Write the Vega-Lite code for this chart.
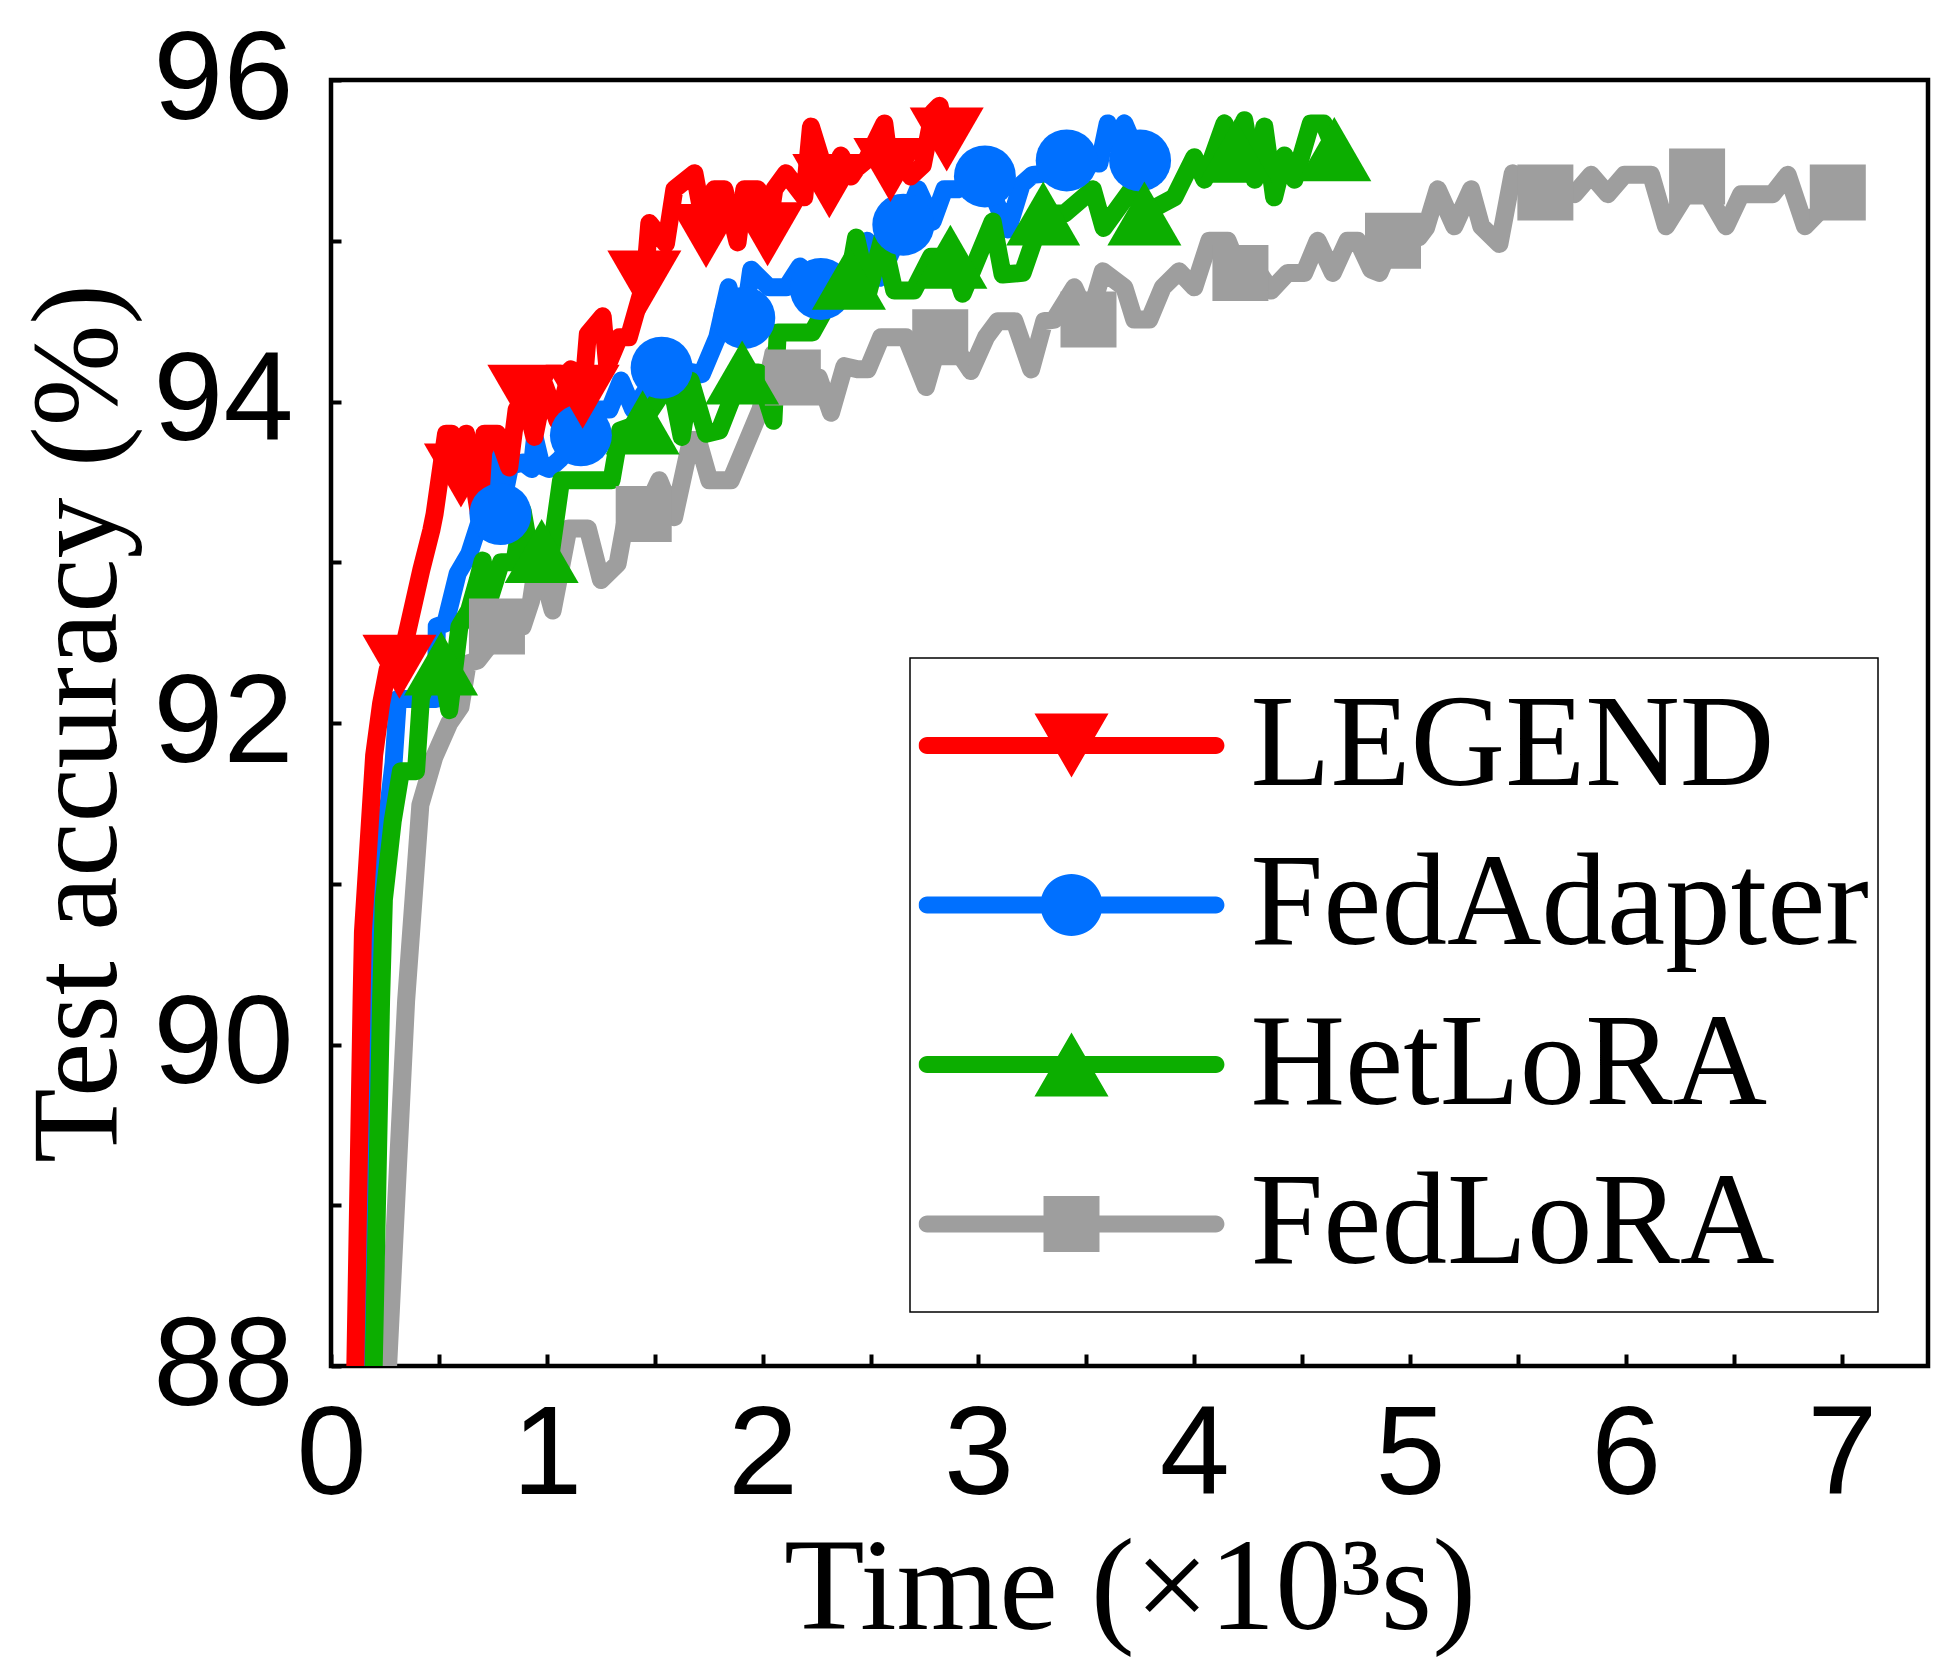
{
  "$schema": "https://vega.github.io/schema/vega-lite/v6.json",
  "width": 1597,
  "height": 1286,
  "autosize": {"type": "none"},
  "padding": {"left": 331, "top": 80, "right": 9, "bottom": 296},
  "background": "white",
  "datasets": {
    "lines": [
      {"series":"FedLoRA","time":0.25,"acc":87.6},{"series":"FedLoRA","time":0.348,"acc":90.27},{"series":"FedLoRA","time":0.414,"acc":91.49},{"series":"FedLoRA","time":0.479,"acc":91.79},{"series":"FedLoRA","time":0.548,"acc":92.0},{"series":"FedLoRA","time":0.6,"acc":92.1},{"series":"FedLoRA","time":0.633,"acc":92.37},{"series":"FedLoRA","time":0.68,"acc":92.39},{"series":"FedLoRA","time":0.726,"acc":92.47},{"series":"FedLoRA","time":0.769,"acc":92.6},{"series":"FedLoRA","time":0.888,"acc":92.6},{"series":"FedLoRA","time":0.927,"acc":92.76},{"series":"FedLoRA","time":0.958,"acc":93.04},{"series":"FedLoRA","time":1.027,"acc":92.7},{"series":"FedLoRA","time":1.066,"acc":92.97},{"series":"FedLoRA","time":1.1,"acc":93.21},{"series":"FedLoRA","time":1.19,"acc":93.21},{"series":"FedLoRA","time":1.251,"acc":92.89},{"series":"FedLoRA","time":1.328,"acc":92.99},{"series":"FedLoRA","time":1.37,"acc":93.3},{"series":"FedLoRA","time":1.449,"acc":93.3},{"series":"FedLoRA","time":1.521,"acc":93.51},{"series":"FedLoRA","time":1.59,"acc":93.28},{"series":"FedLoRA","time":1.668,"acc":93.76},{"series":"FedLoRA","time":1.7,"acc":93.76},{"series":"FedLoRA","time":1.753,"acc":93.51},{"series":"FedLoRA","time":1.853,"acc":93.51},{"series":"FedLoRA","time":1.99,"acc":93.95},{"series":"FedLoRA","time":2.05,"acc":94.3},{"series":"FedLoRA","time":2.14,"acc":94.15},{"series":"FedLoRA","time":2.26,"acc":94.15},{"series":"FedLoRA","time":2.317,"acc":93.93},{"series":"FedLoRA","time":2.379,"acc":94.22},{"series":"FedLoRA","time":2.44,"acc":94.2},{"series":"FedLoRA","time":2.487,"acc":94.2},{"series":"FedLoRA","time":2.549,"acc":94.4},{"series":"FedLoRA","time":2.664,"acc":94.4},{"series":"FedLoRA","time":2.757,"acc":94.09},{"series":"FedLoRA","time":2.823,"acc":94.4},{"series":"FedLoRA","time":2.92,"acc":94.28},{"series":"FedLoRA","time":2.965,"acc":94.19},{"series":"FedLoRA","time":3.035,"acc":94.4},{"series":"FedLoRA","time":3.09,"acc":94.5},{"series":"FedLoRA","time":3.167,"acc":94.5},{"series":"FedLoRA","time":3.244,"acc":94.2},{"series":"FedLoRA","time":3.305,"acc":94.5},{"series":"FedLoRA","time":3.352,"acc":94.51},{"series":"FedLoRA","time":3.444,"acc":94.71},{"series":"FedLoRA","time":3.51,"acc":94.51},{"series":"FedLoRA","time":3.576,"acc":94.81},{"series":"FedLoRA","time":3.676,"acc":94.71},{"series":"FedLoRA","time":3.722,"acc":94.51},{"series":"FedLoRA","time":3.792,"acc":94.51},{"series":"FedLoRA","time":3.854,"acc":94.71},{"series":"FedLoRA","time":3.93,"acc":94.81},{"series":"FedLoRA","time":4.0,"acc":94.71},{"series":"FedLoRA","time":4.07,"acc":95.0},{"series":"FedLoRA","time":4.155,"acc":95.0},{"series":"FedLoRA","time":4.214,"acc":94.8},{"series":"FedLoRA","time":4.3,"acc":94.8},{"series":"FedLoRA","time":4.356,"acc":94.69},{"series":"FedLoRA","time":4.433,"acc":94.8},{"series":"FedLoRA","time":4.51,"acc":94.8},{"series":"FedLoRA","time":4.572,"acc":95.0},{"series":"FedLoRA","time":4.642,"acc":94.8},{"series":"FedLoRA","time":4.71,"acc":95.0},{"series":"FedLoRA","time":4.757,"acc":95.0},{"series":"FedLoRA","time":4.82,"acc":94.82},{"series":"FedLoRA","time":4.858,"acc":94.8},{"series":"FedLoRA","time":4.921,"acc":95.0},{"series":"FedLoRA","time":5.04,"acc":95.02},{"series":"FedLoRA","time":5.074,"acc":95.08},{"series":"FedLoRA","time":5.128,"acc":95.32},{"series":"FedLoRA","time":5.205,"acc":95.09},{"series":"FedLoRA","time":5.283,"acc":95.32},{"series":"FedLoRA","time":5.33,"acc":95.09},{"series":"FedLoRA","time":5.414,"acc":94.98},{"series":"FedLoRA","time":5.476,"acc":95.42},{"series":"FedLoRA","time":5.627,"acc":95.3},{"series":"FedLoRA","time":5.762,"acc":95.29},{"series":"FedLoRA","time":5.839,"acc":95.41},{"series":"FedLoRA","time":5.916,"acc":95.29},{"series":"FedLoRA","time":5.993,"acc":95.41},{"series":"FedLoRA","time":6.117,"acc":95.41},{"series":"FedLoRA","time":6.186,"acc":95.09},{"series":"FedLoRA","time":6.33,"acc":95.4},{"series":"FedLoRA","time":6.464,"acc":95.09},{"series":"FedLoRA","time":6.534,"acc":95.29},{"series":"FedLoRA","time":6.68,"acc":95.29},{"series":"FedLoRA","time":6.75,"acc":95.41},{"series":"FedLoRA","time":6.83,"acc":95.09},{"series":"FedLoRA","time":6.982,"acc":95.3},

      {"series":"FedAdapter","time":0.16,"acc":87.0},{"series":"FedAdapter","time":0.2,"acc":89.5},{"series":"FedAdapter","time":0.22,"acc":90.6},{"series":"FedAdapter","time":0.25,"acc":91.3},{"series":"FedAdapter","time":0.29,"acc":91.75},{"series":"FedAdapter","time":0.31,"acc":92.15},{"series":"FedAdapter","time":0.487,"acc":92.15},{"series":"FedAdapter","time":0.49,"acc":92.6},{"series":"FedAdapter","time":0.53,"acc":92.62},{"series":"FedAdapter","time":0.587,"acc":92.93},{"series":"FedAdapter","time":0.64,"acc":93.05},{"series":"FedAdapter","time":0.7,"acc":93.3},{"series":"FedAdapter","time":0.75,"acc":93.64},{"series":"FedAdapter","time":0.785,"acc":93.3},{"series":"FedAdapter","time":0.83,"acc":93.6},{"series":"FedAdapter","time":0.89,"acc":93.62},{"series":"FedAdapter","time":0.93,"acc":93.58},{"series":"FedAdapter","time":0.945,"acc":93.77},{"series":"FedAdapter","time":0.975,"acc":93.6},{"series":"FedAdapter","time":1.01,"acc":93.58},{"series":"FedAdapter","time":1.06,"acc":93.64},{"series":"FedAdapter","time":1.158,"acc":93.79},{"series":"FedAdapter","time":1.233,"acc":93.95},{"series":"FedAdapter","time":1.29,"acc":93.95},{"series":"FedAdapter","time":1.344,"acc":94.13},{"series":"FedAdapter","time":1.4,"acc":93.95},{"series":"FedAdapter","time":1.45,"acc":94.05},{"series":"FedAdapter","time":1.532,"acc":94.21},{"series":"FedAdapter","time":1.6,"acc":94.2},{"series":"FedAdapter","time":1.718,"acc":94.17},{"series":"FedAdapter","time":1.79,"acc":94.4},{"series":"FedAdapter","time":1.842,"acc":94.71},{"series":"FedAdapter","time":1.87,"acc":94.55},{"series":"FedAdapter","time":1.915,"acc":94.52},{"series":"FedAdapter","time":1.947,"acc":94.82},{"series":"FedAdapter","time":2.03,"acc":94.71},{"series":"FedAdapter","time":2.11,"acc":94.71},{"series":"FedAdapter","time":2.173,"acc":94.84},{"series":"FedAdapter","time":2.27,"acc":94.7},{"series":"FedAdapter","time":2.36,"acc":94.72},{"series":"FedAdapter","time":2.42,"acc":94.9},{"series":"FedAdapter","time":2.484,"acc":95.0},{"series":"FedAdapter","time":2.544,"acc":94.77},{"series":"FedAdapter","time":2.652,"acc":95.1},{"series":"FedAdapter","time":2.72,"acc":95.32},{"series":"FedAdapter","time":2.788,"acc":95.12},{"series":"FedAdapter","time":2.842,"acc":95.32},{"series":"FedAdapter","time":2.904,"acc":95.32},{"series":"FedAdapter","time":3.03,"acc":95.4},{"series":"FedAdapter","time":3.136,"acc":95.07},{"series":"FedAdapter","time":3.2,"acc":95.35},{"series":"FedAdapter","time":3.251,"acc":95.41},{"series":"FedAdapter","time":3.33,"acc":95.42},{"series":"FedAdapter","time":3.409,"acc":95.5},{"series":"FedAdapter","time":3.48,"acc":95.5},{"series":"FedAdapter","time":3.56,"acc":95.48},{"series":"FedAdapter","time":3.599,"acc":95.73},{"series":"FedAdapter","time":3.64,"acc":95.6},{"series":"FedAdapter","time":3.676,"acc":95.73},{"series":"FedAdapter","time":3.749,"acc":95.5},

      {"series":"HetLoRA","time":0.183,"acc":87.0},{"series":"HetLoRA","time":0.232,"acc":90.27},{"series":"HetLoRA","time":0.245,"acc":90.9},{"series":"HetLoRA","time":0.286,"acc":91.39},{"series":"HetLoRA","time":0.324,"acc":91.7},{"series":"HetLoRA","time":0.394,"acc":91.7},{"series":"HetLoRA","time":0.417,"acc":92.16},{"series":"HetLoRA","time":0.46,"acc":92.3},{"series":"HetLoRA","time":0.51,"acc":92.37},{"series":"HetLoRA","time":0.548,"acc":92.08},{"series":"HetLoRA","time":0.595,"acc":92.6},{"series":"HetLoRA","time":0.64,"acc":92.7},{"series":"HetLoRA","time":0.68,"acc":92.89},{"series":"HetLoRA","time":0.703,"acc":93.01},{"series":"HetLoRA","time":0.73,"acc":92.75},{"series":"HetLoRA","time":0.788,"acc":93.0},{"series":"HetLoRA","time":0.85,"acc":93.0},{"series":"HetLoRA","time":0.888,"acc":93.32},{"series":"HetLoRA","time":0.93,"acc":93.0},{"series":"HetLoRA","time":0.976,"acc":93.07},{"series":"HetLoRA","time":1.02,"acc":93.07},{"series":"HetLoRA","time":1.066,"acc":93.51},{"series":"HetLoRA","time":1.3,"acc":93.51},{"series":"HetLoRA","time":1.34,"acc":93.82},{"series":"HetLoRA","time":1.444,"acc":93.87},{"series":"HetLoRA","time":1.573,"acc":94.13},{"series":"HetLoRA","time":1.625,"acc":93.78},{"series":"HetLoRA","time":1.666,"acc":94.13},{"series":"HetLoRA","time":1.738,"acc":93.8},{"series":"HetLoRA","time":1.8,"acc":93.82},{"series":"HetLoRA","time":1.905,"acc":94.18},{"series":"HetLoRA","time":1.98,"acc":94.18},{"series":"HetLoRA","time":2.05,"acc":93.88},{"series":"HetLoRA","time":2.07,"acc":94.43},{"series":"HetLoRA","time":2.23,"acc":94.43},{"series":"HetLoRA","time":2.3,"acc":94.6},{"series":"HetLoRA","time":2.4,"acc":94.77},{"series":"HetLoRA","time":2.433,"acc":95.02},{"series":"HetLoRA","time":2.49,"acc":94.68},{"series":"HetLoRA","time":2.556,"acc":95.02},{"series":"HetLoRA","time":2.61,"acc":94.69},{"series":"HetLoRA","time":2.7,"acc":94.69},{"series":"HetLoRA","time":2.78,"acc":94.9},{"series":"HetLoRA","time":2.87,"acc":94.9},{"series":"HetLoRA","time":2.927,"acc":94.67},{"series":"HetLoRA","time":3.066,"acc":95.12},{"series":"HetLoRA","time":3.112,"acc":94.79},{"series":"HetLoRA","time":3.205,"acc":94.8},{"series":"HetLoRA","time":3.3,"acc":95.17},{"series":"HetLoRA","time":3.4,"acc":95.17},{"series":"HetLoRA","time":3.53,"acc":95.32},{"series":"HetLoRA","time":3.58,"acc":95.08},{"series":"HetLoRA","time":3.715,"acc":95.33},{"series":"HetLoRA","time":3.769,"acc":95.17},{"series":"HetLoRA","time":3.908,"acc":95.27},{"series":"HetLoRA","time":4.0,"acc":95.52},{"series":"HetLoRA","time":4.047,"acc":95.38},{"series":"HetLoRA","time":4.14,"acc":95.73},{"series":"HetLoRA","time":4.19,"acc":95.56},{"series":"HetLoRA","time":4.232,"acc":95.75},{"series":"HetLoRA","time":4.28,"acc":95.38},{"series":"HetLoRA","time":4.325,"acc":95.71},{"series":"HetLoRA","time":4.37,"acc":95.27},{"series":"HetLoRA","time":4.418,"acc":95.53},{"series":"HetLoRA","time":4.464,"acc":95.38},{"series":"HetLoRA","time":4.54,"acc":95.73},{"series":"HetLoRA","time":4.6,"acc":95.73},{"series":"HetLoRA","time":4.649,"acc":95.57},

      {"series":"LEGEND","time":0.1,"acc":87.0},{"series":"LEGEND","time":0.142,"acc":90.3},{"series":"LEGEND","time":0.148,"acc":90.7},{"series":"LEGEND","time":0.2,"acc":91.8},{"series":"LEGEND","time":0.232,"acc":92.12},{"series":"LEGEND","time":0.262,"acc":92.33},{"series":"LEGEND","time":0.317,"acc":92.35},{"series":"LEGEND","time":0.418,"acc":92.95},{"series":"LEGEND","time":0.465,"acc":93.2},{"series":"LEGEND","time":0.48,"acc":93.3},{"series":"LEGEND","time":0.533,"acc":93.8},{"series":"LEGEND","time":0.56,"acc":93.8},{"series":"LEGEND","time":0.602,"acc":93.54},{"series":"LEGEND","time":0.626,"acc":93.8},{"series":"LEGEND","time":0.687,"acc":93.29},{"series":"LEGEND","time":0.711,"acc":93.8},{"series":"LEGEND","time":0.77,"acc":93.8},{"series":"LEGEND","time":0.826,"acc":93.59},{"series":"LEGEND","time":0.86,"acc":93.95},{"series":"LEGEND","time":0.896,"acc":94.03},{"series":"LEGEND","time":0.942,"acc":93.78},{"series":"LEGEND","time":0.99,"acc":94.1},{"series":"LEGEND","time":1.05,"acc":93.88},{"series":"LEGEND","time":1.112,"acc":94.2},{"series":"LEGEND","time":1.166,"acc":94.03},{"series":"LEGEND","time":1.19,"acc":94.42},{"series":"LEGEND","time":1.259,"acc":94.53},{"series":"LEGEND","time":1.28,"acc":94.22},{"series":"LEGEND","time":1.336,"acc":94.4},{"series":"LEGEND","time":1.38,"acc":94.4},{"series":"LEGEND","time":1.452,"acc":94.74},{"series":"LEGEND","time":1.475,"acc":95.11},{"series":"LEGEND","time":1.552,"acc":94.98},{"series":"LEGEND","time":1.591,"acc":95.32},{"series":"LEGEND","time":1.684,"acc":95.42},{"series":"LEGEND","time":1.738,"acc":95.03},{"series":"LEGEND","time":1.776,"acc":95.32},{"series":"LEGEND","time":1.823,"acc":95.32},{"series":"LEGEND","time":1.884,"acc":94.99},{"series":"LEGEND","time":1.915,"acc":95.32},{"series":"LEGEND","time":1.977,"acc":95.32},{"series":"LEGEND","time":2.023,"acc":95.04},{"series":"LEGEND","time":2.054,"acc":95.32},{"series":"LEGEND","time":2.108,"acc":95.42},{"series":"LEGEND","time":2.193,"acc":95.27},{"series":"LEGEND","time":2.224,"acc":95.71},{"series":"LEGEND","time":2.309,"acc":95.34},{"series":"LEGEND","time":2.363,"acc":95.53},{"series":"LEGEND","time":2.41,"acc":95.4},{"series":"LEGEND","time":2.435,"acc":95.45},{"series":"LEGEND","time":2.48,"acc":95.5},{"series":"LEGEND","time":2.564,"acc":95.73},{"series":"LEGEND","time":2.592,"acc":95.44},{"series":"LEGEND","time":2.62,"acc":95.55},{"series":"LEGEND","time":2.686,"acc":95.4},{"series":"LEGEND","time":2.742,"acc":95.47},{"series":"LEGEND","time":2.79,"acc":95.8},{"series":"LEGEND","time":2.82,"acc":95.84},{"series":"LEGEND","time":2.853,"acc":95.63}
    ],
    "markers": [
      {"series":"FedLoRA","time":0.769,"acc":92.6},{"series":"FedLoRA","time":1.449,"acc":93.3},{"series":"FedLoRA","time":2.14,"acc":94.15},{"series":"FedLoRA","time":2.823,"acc":94.4},{"series":"FedLoRA","time":3.51,"acc":94.51},{"series":"FedLoRA","time":4.214,"acc":94.8},{"series":"FedLoRA","time":4.921,"acc":95.0},{"series":"FedLoRA","time":5.627,"acc":95.3},{"series":"FedLoRA","time":6.33,"acc":95.4},{"series":"FedLoRA","time":6.982,"acc":95.3},
      {"series":"FedAdapter","time":0.785,"acc":93.3},{"series":"FedAdapter","time":1.158,"acc":93.79},{"series":"FedAdapter","time":1.532,"acc":94.21},{"series":"FedAdapter","time":1.915,"acc":94.52},{"series":"FedAdapter","time":2.27,"acc":94.7},{"series":"FedAdapter","time":2.652,"acc":95.1},{"series":"FedAdapter","time":3.03,"acc":95.4},{"series":"FedAdapter","time":3.409,"acc":95.5},{"series":"FedAdapter","time":3.749,"acc":95.5},
      {"series":"HetLoRA","time":0.51,"acc":92.37},{"series":"HetLoRA","time":0.976,"acc":93.07},{"series":"HetLoRA","time":1.444,"acc":93.87},{"series":"HetLoRA","time":1.905,"acc":94.18},{"series":"HetLoRA","time":2.4,"acc":94.77},{"series":"HetLoRA","time":2.87,"acc":94.9},{"series":"HetLoRA","time":3.3,"acc":95.17},{"series":"HetLoRA","time":3.769,"acc":95.17},{"series":"HetLoRA","time":4.19,"acc":95.56},{"series":"HetLoRA","time":4.649,"acc":95.57},
      {"series":"LEGEND","time":0.317,"acc":92.35},{"series":"LEGEND","time":0.602,"acc":93.54},{"series":"LEGEND","time":0.896,"acc":94.03},{"series":"LEGEND","time":1.166,"acc":94.03},{"series":"LEGEND","time":1.452,"acc":94.74},{"series":"LEGEND","time":1.738,"acc":95.03},{"series":"LEGEND","time":2.023,"acc":95.04},{"series":"LEGEND","time":2.309,"acc":95.34},{"series":"LEGEND","time":2.592,"acc":95.44},{"series":"LEGEND","time":2.853,"acc":95.63}
    ]
  },
  "encoding": {
    "x": {"field": "time", "type": "quantitative", "scale": {"domain": [0, 7.4], "nice": false, "zero": false}},
    "y": {"field": "acc", "type": "quantitative", "scale": {"domain": [88, 96], "nice": false, "zero": false}}
  },
  "layer": [
    {
      "data": {"name": "lines"},
      "mark": {"type": "line", "strokeWidth": 18, "strokeCap": "round", "strokeJoin": "round", "clip": true},
      "encoding": {
        "x": {
          "field": "time", "type": "quantitative",
          "axis": {
            "values": [0, 0.5, 1, 1.5, 2, 2.5, 3, 3.5, 4, 4.5, 5, 5.5, 6, 6.5, 7],
            "labelExpr": "datum.value % 1 === 0 ? format(datum.value, 'd') : ''",
            "title": "Time (×10³s)",
            "titleFont": "Liberation Serif", "titleFontSize": 132, "titleFontWeight": "normal", "titleColor": "black",
            "titleBaseline": "alphabetic", "titleY": 262,
            "labelFont": "Liberation Sans", "labelFontSize": 126, "labelColor": "black", "labelPadding": 39, "labelLimit": 0,
            "labelFlush": false, "labelOverlap": false, "labelBound": false,
            "domain": false, "grid": false, "ticks": true,
            "tickSize": -12, "tickColor": "black", "tickWidth": 4,
            "encode": {"ticks": {"update": {"y2": {"signal": "datum.value % 1 === 0 ? -24 : -12"}}}}
          }
        },
        "y": {
          "field": "acc", "type": "quantitative",
          "axis": {
            "values": [88, 89, 90, 91, 92, 93, 94, 95, 96],
            "labelExpr": "datum.value % 2 === 0 ? format(datum.value, 'd') : ''",
            "title": "Test accuracy (%)",
            "titleFont": "Liberation Serif", "titleFontSize": 122, "titleFontWeight": "normal", "titleColor": "black",
            "titleAngle": 270, "titleBaseline": "alphabetic", "titleAlign": "center", "titleX": -216, "titleY": 643,
            "labelFont": "Liberation Sans", "labelFontSize": 126, "labelColor": "black", "labelPadding": 48, "labelLimit": 0,
            "labelFlush": false, "labelOverlap": false, "labelBound": false,
            "domain": false, "grid": false, "ticks": true,
            "tickSize": -10, "tickColor": "black", "tickWidth": 4,
            "encode": {"ticks": {"update": {"x2": {"signal": "datum.value % 2 === 0 ? 23 : 10"}}}}
          }
        },
        "color": {
          "field": "series", "type": "nominal",
          "scale": {"domain": ["LEGEND", "FedAdapter", "HetLoRA", "FedLoRA"], "range": ["#FF0000", "#0070FF", "#0CAE00", "#9E9E9E"]},
          "legend": {
            "title": null, "orient": "none", "legendX": 579, "legendY": 578, "direction": "vertical",
            "padding": 8.5, "clipHeight": 158, "rowPadding": 1.5,
            "symbolSize": 93636, "symbolStrokeWidth": 0, "labelOffset": 26,
            "labelFont": "Liberation Serif", "labelFontSize": 131, "labelColor": "black", "labelLimit": 0, "labelBaseline": "middle",
            "strokeColor": "black", "fillColor": "white",
            "encode": {
              "symbols": {
                "update": {
                  "shape": {"signal": "datum.value === 'LEGEND' ? 'M-0.944,-0.0556L0.944,-0.0556A0.0556,0.0556,0,0,1,0.944,0.0556L-0.944,0.0556A0.0556,0.0556,0,0,1,-0.944,-0.0556ZM-0.242,-0.209L0.242,-0.209L0,0.209Z' : datum.value === 'FedAdapter' ? 'M-0.944,-0.0556L0.944,-0.0556A0.0556,0.0556,0,0,1,0.944,0.0556L-0.944,0.0556A0.0556,0.0556,0,0,1,-0.944,-0.0556ZM-0.2026,0A0.2026,0.2026,0,1,1,0.2026,0A0.2026,0.2026,0,1,1,-0.2026,0Z' : datum.value === 'HetLoRA' ? 'M-0.944,-0.0556L0.944,-0.0556A0.0556,0.0556,0,0,1,0.944,0.0556L-0.944,0.0556A0.0556,0.0556,0,0,1,-0.944,-0.0556ZM0,-0.209L0.242,0.209L-0.242,0.209Z' : 'M-0.944,-0.0556L0.944,-0.0556A0.0556,0.0556,0,0,1,0.944,0.0556L-0.944,0.0556A0.0556,0.0556,0,0,1,-0.944,-0.0556ZM-0.183,-0.183L0.183,-0.183L0.183,0.183L-0.183,0.183Z'"},
                  "size": {"value": 93636},
                  "fill": {"scale": "color", "field": "value"},
                  "stroke": {"value": "transparent"},
                  "strokeWidth": {"value": 0},
                  "opacity": {"value": 1}
                }
              }
            }
          }
        }
      }
    },
    {
      "data": {"name": "markers"},
      "transform": [{"filter": "datum.series === 'FedLoRA'"}],
      "mark": {"type": "point", "shape": "square", "size": 3136, "filled": true, "opacity": 1, "strokeWidth": 0, "color": "#9E9E9E"}
    },
    {
      "data": {"name": "markers"},
      "transform": [{"filter": "datum.series === 'FedAdapter'"}],
      "mark": {"type": "point", "shape": "circle", "size": 3844, "filled": true, "opacity": 1, "strokeWidth": 0, "color": "#0070FF"}
    },
    {
      "data": {"name": "markers"},
      "transform": [{"filter": "datum.series === 'HetLoRA'"}],
      "mark": {"type": "point", "shape": "triangle-up", "size": 5476, "filled": true, "opacity": 1, "strokeWidth": 0, "color": "#0CAE00"}
    },
    {
      "data": {"name": "markers"},
      "transform": [{"filter": "datum.series === 'LEGEND'"}],
      "mark": {"type": "point", "shape": "triangle-down", "size": 5476, "filled": true, "opacity": 1, "strokeWidth": 0, "color": "#FF0000"}
    }
  ],
  "config": {
    "view": {"stroke": "black", "strokeWidth": 4.5},
    "legend": {"strokeWidth": 1.5}
  }
}
